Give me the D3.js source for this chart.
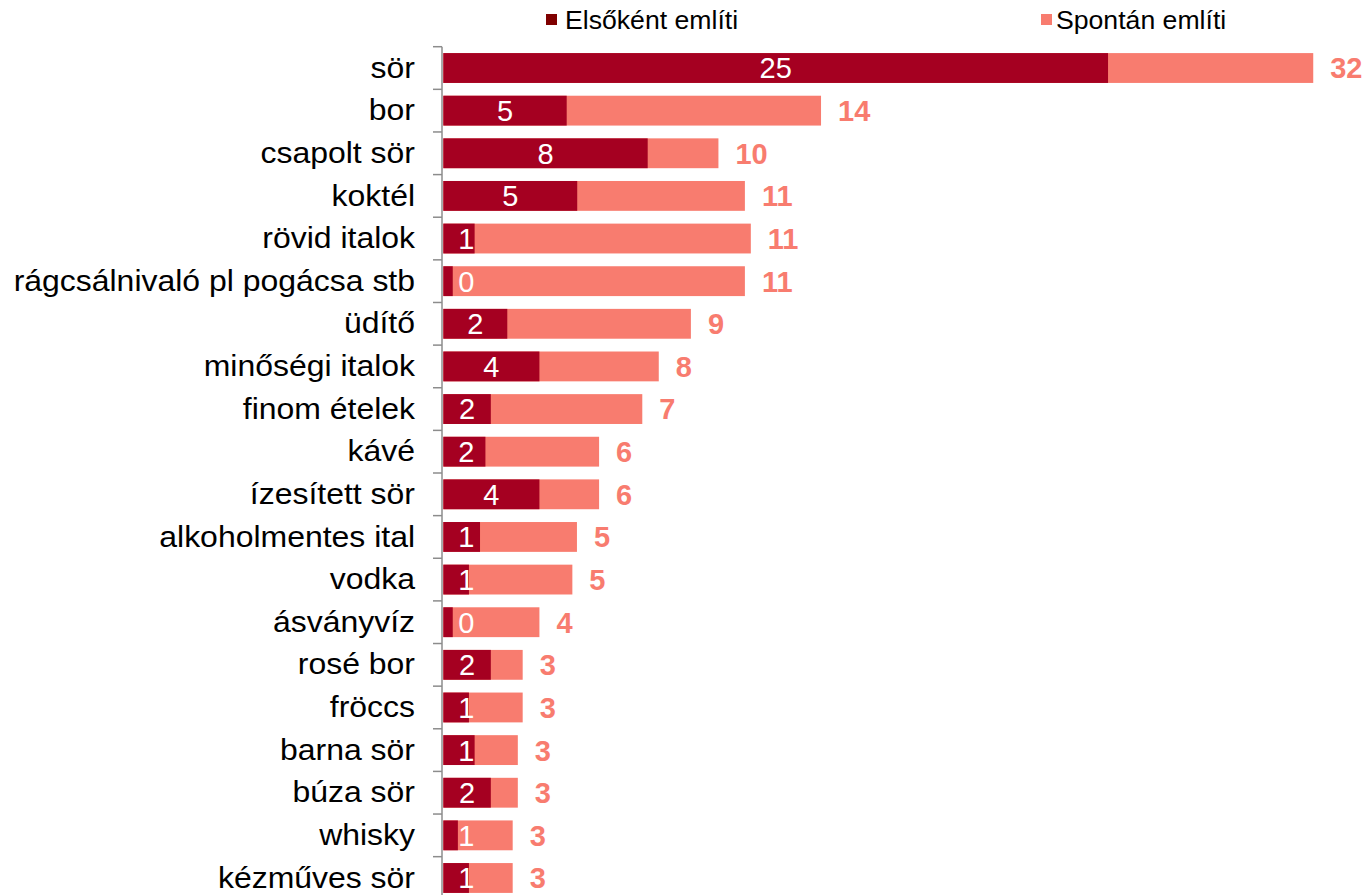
<!DOCTYPE html>
<html lang="hu">
<head>
<meta charset="utf-8">
<script src="https://cdn.jsdelivr.net/npm/d3@7"></script>
<style>
  html, body { margin: 0; padding: 0; background: #ffffff; }
  svg { display: block; font-family: "Liberation Sans", Arial, sans-serif; }
</style>
</head>
<body>
<svg id="chart" width="1363" height="895"></svg>
<script>
// Categories, top to bottom
const categories = [
  "sör", "bor", "csapolt sör", "koktél", "rövid italok",
  "rágcsálnivaló pl pogácsa stb", "üdítő", "minőségi italok", "finom ételek", "kávé",
  "ízesített sör", "alkoholmentes ital", "vodka", "ásványvíz", "rosé bor",
  "fröccs", "barna sör", "búza sör", "whisky", "kézműves sör"
];

// Share of first mentions (%)
const elsokentEmliti = [
  24.62, 4.57, 7.57, 4.96, 1.16,
  0.35, 2.37, 3.56, 1.76, 1.56,
  3.56, 1.36, 0.95, 0.35, 1.76,
  0.95, 1.16, 1.76, 0.54, 0.95
];

// Share of spontaneous mentions (%)
const spontanEmliti = [
  32.22, 13.99, 10.19, 11.17, 11.39,
  11.17, 9.17, 7.98, 7.37, 5.77,
  5.77, 4.95, 4.78, 3.56, 2.94,
  2.94, 2.76, 2.76, 2.57, 2.57
];

const seriesNames = ["Elsőként említi", "Spontán említi"];

const colors = {
  first: "#A50021",
  firstLegend: "#7F0000",
  spont: "#F87C6F",
  axis: "#8C8C8C"
};

// Slightly wider glyphs for the regular-weight labels
const widen = 1.065;
function stretch(sel) {
  sel.each(function () {
    const w = this.getComputedTextLength();
    d3.select(this)
      .attr("textLength", w * widen)
      .attr("lengthAdjust", "spacingAndGlyphs");
  });
}

const svg = d3.select("#chart");
const H = 895;

const x0 = 443.3;
const x = d3.scaleLinear().domain([0, 35]).range([x0, x0 + 35 * 27]);

const yTop = 46.7;
const step = 42.63;
const y = d3.scaleBand()
  .domain(categories)
  .range([yTop, yTop + categories.length * step])
  .paddingInner(0.3)
  .paddingOuter(0.15);

const rows = categories.map((c, i) => ({
  cat: c,
  first: elsokentEmliti[i],
  spont: spontanEmliti[i]
}));

// Spontaneous mentions (full length)
svg.append("g").selectAll("rect")
  .data(rows).join("rect")
  .attr("x", x(0))
  .attr("y", d => y(d.cat))
  .attr("width", d => x(d.spont) - x(0))
  .attr("height", y.bandwidth())
  .attr("fill", colors.spont);

// First mentions, drawn over the spontaneous bar
svg.append("g").selectAll("rect")
  .data(rows).join("rect")
  .attr("x", x(0))
  .attr("y", d => y(d.cat))
  .attr("width", d => x(d.first) - x(0))
  .attr("height", y.bandwidth())
  .attr("fill", colors.first);

const fmt = d3.format(".0f");

// Values inside the dark bars
const inner = svg.append("g").selectAll("text")
  .data(rows).join("text")
  .attr("y", d => y(d.cat) + y.bandwidth() / 2)
  .attr("dy", "0.36em")
  .attr("text-anchor", "middle")
  .attr("fill", "#ffffff")
  .attr("font-size", 29)
  .text(d => fmt(d.first));
inner.attr("x", function (d) {
  const mid = (x(0) + x(d.first)) / 2;
  const w = this.getComputedTextLength();
  return Math.max(mid, x(0) + 15 + w / 2);
});

// Totals after the bars
svg.append("g").selectAll("text")
  .data(rows).join("text")
  .attr("x", d => x(d.spont) + 17)
  .attr("y", d => y(d.cat) + y.bandwidth() / 2)
  .attr("dy", "0.36em")
  .attr("fill", colors.spont)
  .attr("font-size", 29)
  .attr("font-weight", "bold")
  .text(d => fmt(d.spont));

// Category axis
const axisX = 442;
const yAxis = d3.axisLeft(y).tickSize(0).tickPadding(27);
const ag = svg.append("g")
  .attr("transform", `translate(${axisX},0)`)
  .call(yAxis);
ag.select(".domain").remove();
ag.selectAll("text")
  .attr("font-size", 30)
  .attr("fill", "#000000")
  .attr("font-family", "\"Liberation Sans\", Arial, sans-serif")
  .call(stretch);

svg.append("line")
  .attr("x1", axisX).attr("x2", axisX)
  .attr("y1", yTop).attr("y2", H)
  .attr("stroke", colors.axis)
  .attr("stroke-width", 1.5);

const boundaries = categories.map(c => y(c) - y.step() * y.paddingOuter());
boundaries.push(yTop + categories.length * y.step());
svg.append("g").selectAll("line")
  .data(boundaries).join("line")
  .attr("x1", axisX - 9).attr("x2", axisX)
  .attr("y1", d => d).attr("y2", d => d)
  .attr("stroke", colors.axis)
  .attr("stroke-width", 1.5);

// Legend
const legendItems = [
  { name: seriesNames[0], color: colors.firstLegend, x: 546, tx: 19 },
  { name: seriesNames[1], color: colors.spont, x: 1041, tx: 15 }
];
const lg = svg.append("g").selectAll("g")
  .data(legendItems).join("g")
  .attr("transform", d => `translate(${d.x},0)`);
lg.append("rect")
  .attr("x", 0).attr("y", 14)
  .attr("width", 11).attr("height", 11)
  .attr("fill", d => d.color);
lg.append("text")
  .attr("x", d => d.tx).attr("y", 20)
  .attr("dy", "0.36em")
  .attr("font-size", 25)
  .attr("fill", "#000000")
  .text(d => d.name)
  .call(stretch);
</script>
</body>
</html>
